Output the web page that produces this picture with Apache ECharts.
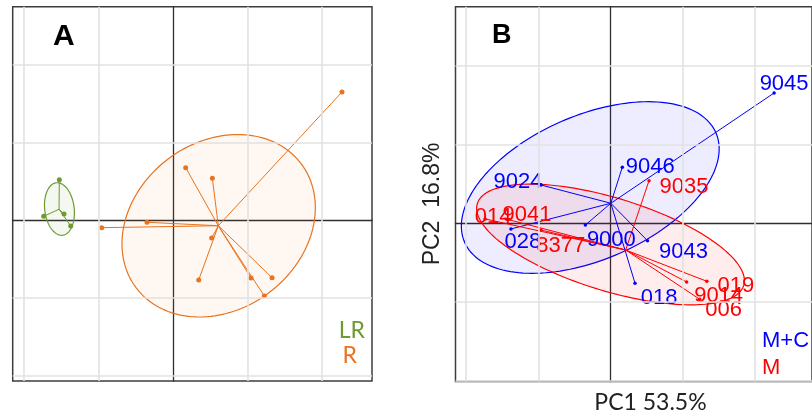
<!DOCTYPE html>
<html>
<head>
<meta charset="utf-8">
<script src="https://cdn.jsdelivr.net/npm/echarts/dist/echarts.min.js"></script>
<style>
html,body{margin:0;padding:0;background:#fff;}
#chart{width:812px;height:415px;}
</style>
</head>
<body>
<div id="chart"></div>
<script>
// ---------------- DATA ----------------
// grid ticks (both panels)
const gridTicks = [-2, -1, 0, 1, 2];

// Panel A
const groupsA = ['LR', 'R'];
const lrX = [-1.526, -1.736, -1.463, -1.373];
const lrY = [0.522, 0.051, 0.081, -0.073];
const rX = [2.268, 0.170, 0.528, -0.349, -0.957, 0.519, 0.345, 1.047, 1.329, 1.226];
const rY = [1.650, 0.677, 0.540, -0.026, -0.095, -0.228, -0.767, -0.742, -0.738, -0.974];
const lrCenter = [-1.530, 0.142];
const rCenter = [0.608, -0.070];
// ellipse: [centre x, centre y, half-extent x, half-extent y, correlation]
const lrEllipse = [-1.5245, 0.145, 0.201, 0.338, -0.146];
const rEllipse = [0.6126, -0.0704, 1.298, 1.1735, 0.198];

// Panel B
const groupsB = ['M+C', 'M'];
const mcNames = ['9045', '9046', '9024', '028', '9000', '9043', '018'];
const mcX = [2.266, 0.163, -0.963, -1.380, -0.349, 0.512, 0.339];
const mcY = [1.654, 0.711, 0.486, -0.072, -0.022, -0.221, -0.761];
const mNames = ['014', '9041', '8377', '9035', '019', '9014', '006'];
const mX = [-1.737, -1.434, -0.967, 0.533, 1.334, 1.054, 1.235];
const mY = [0.055, 0.051, -0.085, 0.541, -0.736, -0.745, -0.964];
const mcCenter = [0.004, 0.254];
const mCenter = [0.210, -0.339];
const mcEllipse = [-0.281, 0.454, 1.786, 1.089, 0.45];
const mEllipse = [0.0, -0.269, 1.855, 0.766, -0.6];

const axisTitleX = 'PC1 53.5%';
const axisTitleY = 'PC2  16.8%';

// ---------------- STYLE ----------------
const green = '#6e9a30', orange = '#e9731e', blue = '#0000ff', red = '#ff0000';
const labelNudge = { // pixel offsets of text labels from their points (label placement)
  '9045': [10, -9], '9046': [28, 0], '9024': [-23, -3], '028': [12, 13], '9000': [26, 15],
  '9043': [36, 11], '018': [24, 15],
  '014': [8, -2], '9041': [20, -4], '8377': [20, 16], '9035': [35, 6], '019': [29, 5],
  '9014': [32, 14], '006': [24, 11]
};

// ---------------- BUILD ----------------
function ellipseSeries(idx, e, stroke, fill) {
  return {
    type: 'custom', xAxisIndex: idx, yAxisIndex: idx, silent: true, z: 2,
    data: [[e[0], e[1]]],
    renderItem: function (params, api) {
      const pts = [];
      const n = 160, s = Math.sqrt(1 - e[4] * e[4]);
      for (let i = 0; i <= n; i++) {
        const t = 2 * Math.PI * i / n;
        const x = e[0] + e[2] * Math.cos(t);
        const y = e[1] + e[3] * (e[4] * Math.cos(t) + s * Math.sin(t));
        pts.push(api.coord([x, y]));
      }
      return { type: 'polygon', shape: { points: pts }, style: { fill: fill, stroke: stroke, lineWidth: 1.2 } };
    }
  };
}
function starSeries(idx, c, xs, ys, color) {
  return {
    type: 'lines', coordinateSystem: 'cartesian2d', xAxisIndex: idx, yAxisIndex: idx, silent: true, z: 3,
    data: xs.map((x, i) => ({ coords: [[c[0], c[1]], [x, ys[i]]] })),
    lineStyle: { color: color, width: 1, opacity: 1 }
  };
}
function dotSeries(idx, xs, ys, color, size, names) {
  return {
    type: 'scatter', xAxisIndex: idx, yAxisIndex: idx, silent: true, z: 4,
    symbolSize: size, itemStyle: { color: color, opacity: 1 },
    data: xs.map((x, i) => {
      const d = { value: [x, ys[i]] };
      if (names) {
        d.label = { show: true, position: 'inside', formatter: names[i], offset: labelNudge[names[i]],
          color: color, fontSize: 22, fontFamily: 'Liberation Sans' };
      }
      return d;
    })
  };
}
function gridLineSeries(idx) {
  return {
    type: 'line', xAxisIndex: idx, yAxisIndex: idx, data: [], silent: true, z: 1,
    markLine: {
      silent: true, symbol: ['none', 'none'], label: { show: false }, animation: false,
      lineStyle: { color: '#e2e2e2', width: 1.6, type: 'solid' },
      data: gridTicks.filter(v => v !== 0).map(v => ({ xAxis: v })).concat(gridTicks.filter(v => v !== 0).map(v => ({ yAxis: v })))
    }
  };
}
function axisDef(idx, min, max) {
  return {
    type: 'value', gridIndex: idx, min: min, max: max, z: 1.5,
    axisLine: { show: true, onZero: true, lineStyle: { color: '#2e2e2e', width: 1.3 } },
    axisTick: { show: false }, axisLabel: { show: false }, splitLine: { show: false }
  };
}

const option = {
  animation: false,
  backgroundColor: '#fff',
  grid: [
    { left: 12.7, top: 6.7, width: 359.3, height: 374.3, show: true, borderColor: '#3c3c3c', borderWidth: 1.5, backgroundColor: '#fff' },
    { left: 455.5, top: 6.7, width: 364.5, height: 374.8, show: true, borderColor: '#3c3c3c', borderWidth: 1.5, backgroundColor: '#fff' }
  ],
  xAxis: [axisDef(0, -2.152, 2.671), axisDef(1, -2.148, 2.791)],
  yAxis: [axisDef(0, -2.067, 2.747), axisDef(1, -2.008, 2.749)],
  series: [
    gridLineSeries(0), gridLineSeries(1),
    ellipseSeries(0, lrEllipse, green, 'rgba(110,154,48,0.07)'),
    ellipseSeries(0, rEllipse, orange, 'rgba(233,115,30,0.06)'),
    starSeries(0, lrCenter, lrX, lrY, green),
    starSeries(0, rCenter, rX, rY, orange),
    dotSeries(0, lrX, lrY, green, 5),
    dotSeries(0, rX, rY, orange, 5),
    ellipseSeries(1, mcEllipse, blue, 'rgba(0,0,255,0.07)'),
    ellipseSeries(1, mEllipse, red, 'rgba(255,0,0,0.07)'),
    starSeries(1, mcCenter, mcX, mcY, blue),
    starSeries(1, mCenter, mX, mY, red),
    dotSeries(1, mcX, mcY, blue, 3.5, mcNames),
    dotSeries(1, mX, mY, red, 3.5, mNames)
  ],
  graphic: [
    { type: 'text', left: 53, top: 22, z: 10, style: { text: 'A', fontSize: 30, fontWeight: 'bold', fontFamily: 'Liberation Sans', fill: '#000' } },
    { type: 'text', left: 492, top: 22, z: 10, style: { text: 'B', fontSize: 27, fontWeight: 'bold', fontFamily: 'Liberation Sans', fill: '#000' } },
    { type: 'text', x: 365, y: 342, z: 10, style: { text: groupsA[0], fontSize: 23, fontFamily: 'Lato', fill: green, align: 'right', verticalAlign: 'bottom' } },
    { type: 'text', x: 357, y: 367, z: 10, style: { text: groupsA[1], fontSize: 23, fontFamily: 'Lato', fill: orange, align: 'right', verticalAlign: 'bottom' } },
    { type: 'text', x: 762, y: 341, z: 10, style: { text: groupsB[0], fontSize: 22, fontFamily: 'Liberation Sans', fill: blue, align: 'left', verticalAlign: 'middle' } },
    { type: 'text', x: 762, y: 368, z: 10, style: { text: groupsB[1], fontSize: 22, fontFamily: 'Liberation Sans', fill: red, align: 'left', verticalAlign: 'middle' } },
    { type: 'text', x: 650.5, y: 403, z: 10, style: { text: axisTitleX, fontSize: 23, fontFamily: 'Lato', fill: '#222', align: 'center', verticalAlign: 'middle' } },
    { type: 'text', x: 433, y: 204, rotation: Math.PI / 2, z: 10, style: { text: axisTitleY, fontSize: 23, fontFamily: 'Liberation Sans', fill: '#222', align: 'center', verticalAlign: 'middle' } }
  ]
};

const chart = echarts.init(document.getElementById('chart'), null, { renderer: 'canvas' });
chart.setOption(option);
</script>
</body>
</html>
